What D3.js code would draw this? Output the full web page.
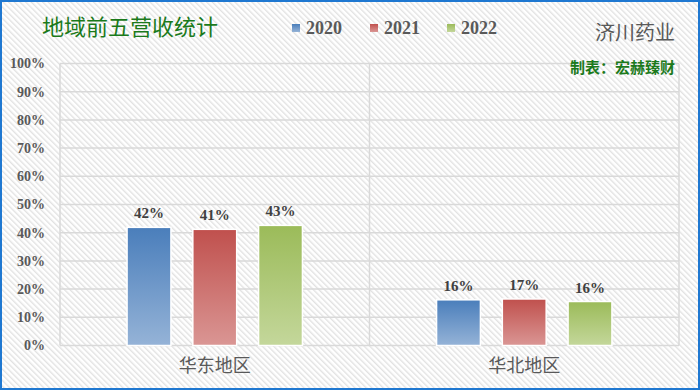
<!DOCTYPE html>
<html><head><meta charset="utf-8">
<script src="https://cdn.jsdelivr.net/npm/d3@7"></script>
<style>body{margin:0;background:#fff}svg{display:block}</style>
</head><body>
<script>
const categories = ["华东地区", "华北地区"];
const years = ["2020", "2021", "2022"];
const v2020 = [0.419, 0.162];
const v2021 = [0.412, 0.165];
const v2022 = [0.426, 0.156];
const yTicks = [0,0.1,0.2,0.3,0.4,0.5,0.6,0.7,0.8,0.9,1.0];
const seriesValues = [v2020, v2021, v2022];

const W = 700, H = 390;
const svg = d3.select("body").append("svg").attr("width", W).attr("height", H);
const defs = svg.append("defs");
const pat = defs.append("pattern").attr("id","stripes").attr("patternUnits","userSpaceOnUse")
  .attr("width",4).attr("height",4).attr("patternTransform","rotate(-45)");
pat.append("rect").attr("width",4).attr("height",4).attr("fill","#ffffff");
pat.append("rect").attr("width",1.4).attr("height",4).attr("fill","#e2e2e2");

const grads = [["#4a7ebb","#95b3d7"],["#c0504d","#da9694"],["#9bbb59","#c4d79b"]];
grads.forEach((g,i)=>{
  const lg = defs.append("linearGradient").attr("id","g"+i).attr("x1",0).attr("y1",0).attr("x2",0).attr("y2",1);
  lg.append("stop").attr("offset","0%").attr("stop-color",g[0]);
  lg.append("stop").attr("offset","100%").attr("stop-color",g[1]);
});

svg.append("rect").attr("x",0).attr("y",0).attr("width",W).attr("height",H).attr("fill","url(#stripes)");
svg.append("rect").attr("x",1).attr("y",1).attr("width",W-2).attr("height",H-2)
  .attr("fill","none").attr("stroke","#1f78d1").attr("stroke-width",2);

const m = {l:60, r:679, t:63.5, b:345.5};
const x0 = d3.scaleBand().domain(categories).range([m.l, m.r]);
const x1 = d3.scaleBand().domain(years).range([0, x0.bandwidth()]).paddingInner(0.333).paddingOuter(1.02);
const y = d3.scaleLinear().domain([0,1]).range([m.b, m.t]);

// plot area
const g = svg.append("g");
g.selectAll("line.grid").data(yTicks).join("line")
  .attr("x1",m.l).attr("x2",m.r).attr("y1",d=>y(d)).attr("y2",d=>y(d))
  .attr("stroke","#d9d9d9").attr("stroke-width",1.5);
g.append("line").attr("x1",m.l).attr("x2",m.l).attr("y1",m.t).attr("y2",m.b).attr("stroke","#d9d9d9").attr("stroke-width",1.5);
g.append("line").attr("x1",m.r).attr("x2",m.r).attr("y1",m.t).attr("y2",m.b).attr("stroke","#d9d9d9").attr("stroke-width",1.5);
g.append("line").attr("x1",x0(categories[1])).attr("x2",x0(categories[1])).attr("y1",m.t).attr("y2",m.b).attr("stroke","#d9d9d9").attr("stroke-width",1.5);

// y axis
const yAxis = d3.axisLeft(y).tickValues(yTicks).tickFormat(d3.format(".0%")).tickSize(0).tickPadding(15);
const ya = svg.append("g").attr("transform",`translate(${m.l},0)`).call(yAxis);
ya.select(".domain").remove();
ya.selectAll("text").attr("font-family","'Liberation Serif', serif").attr("font-weight","bold")
  .attr("font-size",14).attr("fill","#595959");

// bars
categories.forEach((c,ci)=>{
  years.forEach((yr,si)=>{
    const v = seriesValues[si][ci];
    const bx = x0(c)+x1(yr);
    svg.append("rect").attr("x",bx).attr("y",y(v)).attr("width",x1.bandwidth()).attr("height",m.b-y(v))
      .attr("fill",`url(#g${si})`).attr("stroke","#ffffff").attr("stroke-width",1.5);
    svg.append("text").attr("x",bx+x1.bandwidth()/2).attr("y",y(v)-9).attr("text-anchor","middle")
      .attr("font-family","'Liberation Serif', serif").attr("font-weight","bold").attr("font-size",15)
      .attr("fill","#404040").text(d3.format(".0%")(v));
  });
});

// x axis labels
const xAxis = d3.axisBottom(x0).tickSize(0).tickPadding(14);
const xa = svg.append("g").attr("transform",`translate(0,${m.b})`).call(xAxis);
xa.select(".domain").remove();
xa.selectAll("text").attr("font-family","'Noto Sans CJK SC', sans-serif").attr("font-size",18).attr("fill","#595959");

// title
svg.append("text").attr("x",42).attr("y",35).attr("font-family","'Noto Sans CJK SC', sans-serif")
  .attr("font-size",22).attr("fill","#1b7a1b").text("地域前五营收统计");

// legend
const lx = [292, 370, 447];
years.forEach((yr,i)=>{
  svg.append("rect").attr("x",lx[i]).attr("y",24).attr("width",8).attr("height",8).attr("fill",`url(#g${i})`);
  svg.append("text").attr("x",lx[i]+14).attr("y",34).attr("font-family","'Liberation Serif', serif")
    .attr("font-weight","bold").attr("font-size",18).attr("fill","#595959").text(yr);
});

svg.append("text").attr("x",675).attr("y",40).attr("text-anchor","end").attr("font-family","'Noto Sans CJK SC', sans-serif")
  .attr("font-size",20).attr("fill","#595959").text("济川药业");
svg.append("text").attr("x",675).attr("y",73).attr("text-anchor","end").attr("font-family","'Noto Sans CJK SC', sans-serif")
  .attr("font-weight","bold").attr("font-size",15).attr("fill","#1b7a1b").text("制表：宏赫臻财");
</script>
</body></html>
